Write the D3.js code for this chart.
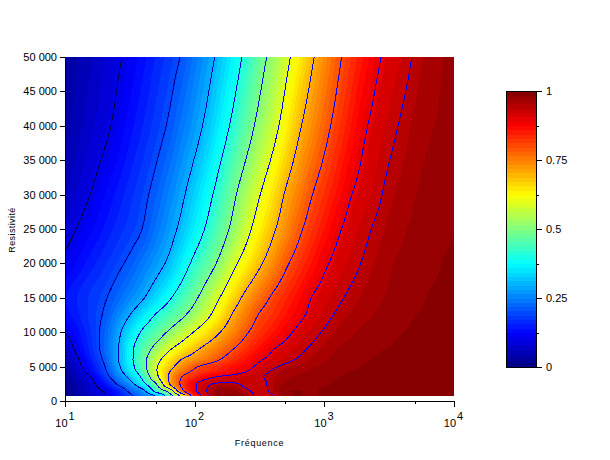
<!DOCTYPE html>
<html><head><meta charset="utf-8">
<script src="https://cdn.jsdelivr.net/npm/d3@7"></script>
<style>html,body{margin:0;background:#fff}svg{display:block}text{font-family:"Liberation Sans",sans-serif;fill:#000}</style>
</head><body><svg id="c" width="610" height="460"></svg>
<script>
const frequencyExp = [1,1.1,1.2,1.3,1.4,1.5,1.6,1.7,1.8,1.9,2,2.1,2.2,2.3,2.4,2.5,2.6,2.7,2.8,2.9,3,3.1,3.2,3.3,3.4,3.5,3.6,3.7,3.8,3.9,4];
const resistivity = [50000,40000,30000,25000,20000,15000,12500,10000,7500,6000,5000,4400,3500,2500,1500,800];
const zPercent = [
[3,4.6,6.1,7.7,9.3,11.2,13.4,15.7,17.9,20.3,24,27.7,31.9,36.7,41.7,47.1,52.2,57.8,63.3,68.8,73.7,78.5,82.4,85.8,89.2,90.9,92.1,94.2,95.75,96.7,97.4],
[4,5.7,7.4,9,10.9,13.3,15.6,18,20.5,24.1,27.6,31.6,36.5,41.5,46.7,52,57.1,62.8,68.7,73.4,77.9,81.9,85.6,89.2,91.1,92.6,94.2,95.75,96.6,97.1,97.7],
[6,8.2,10.1,12.3,14.4,16.6,18.8,21.6,25.2,28.9,33.2,37.9,43.1,48.7,54.2,59.6,64.8,70.5,75,79.6,83,86.4,89.7,91.3,92.8,94.7,95.95,96.8,97.4,97.9,98.4],
[8.3,10.3,12.2,14.2,16.2,18,20.1,23.8,27.5,31.5,36.3,41.1,46.4,51.9,57.8,63.4,68.6,73.6,78.5,82.4,85.8,89.2,91.2,92.7,94.3,95.7,96.6,97.2,97.6,98,98.4],
[11,12.9,14.9,16.8,18.8,21.1,24.3,27.5,31.1,36.4,41.7,46.5,51.8,58.2,63.6,68.8,73.6,78.8,82.5,85.9,89.2,91.1,92.5,94,95.5,96.6,97.2,97.6,98,98.4,98.8],
[14,15.8,17.6,19.4,22.3,25.8,29.4,34,38.9,43.7,48.6,54.3,60.3,66.5,72.1,76.8,80.8,83.9,86.9,90,91.5,93,94.4,95.6,96.5,97.1,97.6,98,98.5,98.7,99],
[13,15.3,17.8,20.4,25.1,29.9,35.1,40.4,44.4,48.5,53.2,58.5,64.6,70.8,75.7,80.4,83,85.9,88.7,90.9,92.6,94.2,95.5,96.3,97,97.6,98,98.4,98.6,98.9,99.2],
[10,13.6,17.2,21.6,27.9,34.5,41.1,45.6,50.8,55.5,60.4,65.2,70,74.7,79.3,82.9,85.6,88.6,90.9,92.5,94.1,95.6,96.5,97.2,97.7,98,98.4,98.6,98.8,99.1,99.4],
[6,11.6,16.4,21.8,28.9,37.7,45.5,52.5,59,64,68.7,72.7,76.4,80.1,83.4,86.7,89.8,91.4,92.8,94.3,95.8,96.9,97.4,97.8,98.3,98.5,98.7,98.8,99,99.2,99.5],
[4,9.5,15,20.6,28.8,37.7,47,56.8,64.1,70.2,73.5,76.8,80.2,83.3,86.4,89.5,91.1,92.7,94.1,95.6,96.7,97.3,97.8,98.3,98.5,98.7,98.8,99,99.1,99.3,99.6],
[3,8.6,13.5,19.3,27.7,36.6,46.7,58.7,67.1,73.5,79.1,81.9,84.1,86.4,88.7,90.9,92.8,94.7,95.8,96.7,97.2,97.7,98.1,98.5,98.6,98.7,98.9,99,99.2,99.4,99.6],
[2.5,7.6,12.8,18.6,26.7,35.4,45.5,58.9,68.8,75.8,80.8,83,85.1,87.3,89.5,91.9,94,95.7,96.4,97,97.5,97.9,98.4,98.6,98.7,98.8,99,99.1,99.3,99.4,99.6],
[2,6.5,9.9,16.8,23.9,31.7,42,57,70.2,80,84.2,88.4,90.6,91.5,92.4,93.3,94.8,96.5,97.1,97.6,98,98.4,98.6,98.7,98.8,98.9,99,99.2,99.3,99.5,99.7],
[1.5,4.9,8.5,13.6,20.3,27,37.5,49.2,69,81.4,89.4,93,94.3,94.2,92.8,92.6,95,97.1,97.5,97.9,98.2,98.6,98.7,98.8,98.9,99,99.1,99.2,99.4,99.6,99.8],
[1,4.6,7.9,10.4,14.8,21.5,28,43,53.5,77.5,89.2,94,98,97.5,94.5,92.5,94.6,98.4,98.5,98.1,98.7,98.7,98.8,98.8,98.9,99,99.1,99.2,99.4,99.7,100],
[0.5,3.5,6.3,9.2,13.8,18.8,24.2,30.5,44.5,63,84.7,93.3,97.9,98.8,96.5,92.8,93.5,97.2,98.6,98.1,98.7,98.7,98.8,98.8,98.9,99,99.1,99.2,99.4,99.7,100]
];
const lineLevels = [10,20,30,40,50,60,70,80,90,93.75];
const lineColors = ["#000050","#000090","#0000c0","#0000e0","#0000ff","#0000ff","#0000ff","#0000ff","#0000ff","#0000ff"];
const yTicks = [0,5000,10000,15000,20000,25000,30000,35000,40000,45000,50000];
const xMajor = [10,100,1000,10000];
const xMinor = [50,500,5000];
const barTicks = [0,0.125,0.25,0.375,0.5,0.625,0.75,0.875,1];
const barLabelled = [0,0.25,0.5,0.75,1];
const nColors = 64;
const smoothing = 4;

const jet = v => {
  const c = a => Math.round(255*Math.max(0,Math.min(1,a)));
  return `rgb(${c(Math.min(4*v-1.5,-4*v+4.5))},${c(Math.min(4*v-0.5,-4*v+3.5))},${c(Math.min(4*v+0.5,-4*v+2.5))})`;
};
// display-only resampling of the read grid so contour curves are not polygonal
function refine(vals,f){
  const n=vals.length,d=d3.range(n-1).map(i=>vals[i+1]-vals[i]);
  const m=vals.map((_,i)=>i===0?d[0]:i===n-1?d[n-2]:(d[i-1]*d[i]<=0?0:2*d[i-1]*d[i]/(d[i-1]+d[i])));
  const out=[];
  for(let i=0;i<n-1;i++)for(let k=0;k<f;k++){
    const t=k/f,t2=t*t,t3=t2*t;
    out.push((2*t3-3*t2+1)*vals[i]+(t3-2*t2+t)*m[i]+(-2*t3+3*t2)*vals[i+1]+(t3-t2)*m[i+1]);
  }
  out.push(vals[n-1]);return out;
}
const rowsFine = zPercent.map(r=>refine(r,smoothing));
const colsFine = d3.range(rowsFine[0].length).map(c=>refine(rowsFine.map(r=>r[c]),smoothing));
const rhoFine = refine(resistivity,smoothing);
const fExpFine = refine(frequencyExp,smoothing);
const nx = fExpFine.length, ny = rhoFine.length;
const flat = [];
for(let j=0;j<ny;j++)for(let i=0;i<nx;i++)flat.push(colsFine[i][j]);

const svg = d3.select("#c");
const x = d3.scaleLog().domain([10,10000]).range([65,453.5]);
const y = d3.scaleLinear().domain([0,50000]).range([401,57]);
const fmt = v => d3.format(",")(v).replace(/,/g," ");
const iX = d3.scaleLinear().domain(d3.range(nx)).range(fExpFine);
const iY = d3.scaleLinear().domain(d3.range(ny)).range(rhoFine);
const toPx = p => {
  const i = Math.max(0,Math.min(nx-1,p[0]-0.5)), j = Math.max(0,Math.min(ny-1,p[1]-0.5));
  return [x(Math.pow(10,iX(i))), y(iY(j))];
};
const contours = d3.contours().size([nx,ny]);
const g = svg.append("g").attr("shape-rendering","crispEdges");
d3.range(nColors).forEach(k=>{
  const t = k/nColors*100;
  const geo = contours.contour(flat,t);
  const d = geo.coordinates.map(poly=>poly.map(r=>"M"+r.map(toPx).map(p=>p[0].toFixed(2)+","+p[1].toFixed(2)).join("L")+"Z").join("")).join("");
  g.append("path").attr("d",d).attr("fill",jet((k+0.5)/nColors)).attr("fill-rule","evenodd");
});
const gl = svg.append("g").attr("shape-rendering","crispEdges").attr("fill","none");
lineLevels.forEach((lv,li)=>{
  const geo = contours.contour(flat,lv);
  let d = "";
  geo.coordinates.forEach(poly=>poly.forEach(r=>{
    const onEdge = (a,b)=> (a[0]<=0.5&&b[0]<=0.5)||(a[0]>=nx-0.5&&b[0]>=nx-0.5)||(a[1]<=0.5&&b[1]<=0.5)||(a[1]>=ny-0.5&&b[1]>=ny-0.5);
    let pen=false;
    for(let i=1;i<r.length;i++){
      if(onEdge(r[i-1],r[i])){pen=false;continue;}
      const A=toPx(r[i-1]),B=toPx(r[i]);
      if(!pen){d+="M"+A[0].toFixed(2)+","+A[1].toFixed(2);pen=true;}
      d+="L"+B[0].toFixed(2)+","+B[1].toFixed(2);
    }
  }));
  gl.append("path").attr("d",d).attr("stroke",lineColors[li]).attr("stroke-width",1);
});

// axes
const ax = svg.append("g").attr("shape-rendering","crispEdges");
const yAxis = ax.append("g").attr("transform","translate(65,0)")
  .call(d3.axisLeft(y).tickValues(yTicks).tickFormat(fmt).tickSize(5).tickSizeOuter(0));
yAxis.selectAll("text").attr("font-size",11).attr("font-family",'"Liberation Sans"').attr("x",-8).style("fill","#000");
const xAxis = ax.append("g").attr("transform","translate(0,401)")
  .call(d3.axisBottom(x).tickValues([...xMajor,...xMinor]).tickFormat(()=>"").tickSize(6).tickSizeOuter(0));
xAxis.selectAll(".tick").filter(d=>xMinor.includes(d)).select("line").attr("y2",3);
xMajor.forEach(v=>{
  const t = svg.append("text").attr("x",x(v)).attr("y",427).attr("font-size",11).attr("text-anchor","middle");
  t.append("tspan").text("10");
  t.append("tspan").attr("dy",-7).attr("dx",1).text(Math.round(Math.log10(v)));
});
svg.append("text").attr("x",259.5).attr("y",446).attr("text-anchor","middle").attr("font-size",9)
  .attr("font-family",'"DejaVu Sans"').attr("letter-spacing",0.7).text("Fréquence");
svg.append("text").attr("transform","translate(15,230) rotate(-90)").attr("text-anchor","middle").attr("font-size",9)
  .attr("font-family",'"DejaVu Sans"').attr("letter-spacing",0.4).text("Resistivité");

// colour bar
const by = d3.scaleLinear().domain([0,1]).range([367,91]);
const bar = svg.append("g").attr("shape-rendering","crispEdges");
bar.selectAll("rect.b").data(d3.range(nColors)).join("rect").attr("class","b")
  .attr("x",506.5).attr("width",30)
  .attr("y",k=>by((k+1)/nColors)).attr("height",k=>by(k/nColors)-by((k+1)/nColors)+0.5)
  .attr("fill",k=>jet((k+0.5)/nColors));
bar.append("rect").attr("x",506.5).attr("y",91.5).attr("width",30).attr("height",275.5).attr("fill","none").attr("stroke","#000");
const bAxis = bar.append("g").attr("transform","translate(536,0)")
  .call(d3.axisRight(by).tickValues(barTicks).tickFormat(d=>barLabelled.includes(d)?String(d):"").tickSize(6).tickSizeOuter(0));
bAxis.selectAll(".tick").filter(d=>!barLabelled.includes(d)).select("line").attr("x2",3);
bAxis.selectAll("text").attr("font-size",11).attr("font-family",'"Liberation Sans"').attr("x",10).style("fill","#000");
</script></body></html>
